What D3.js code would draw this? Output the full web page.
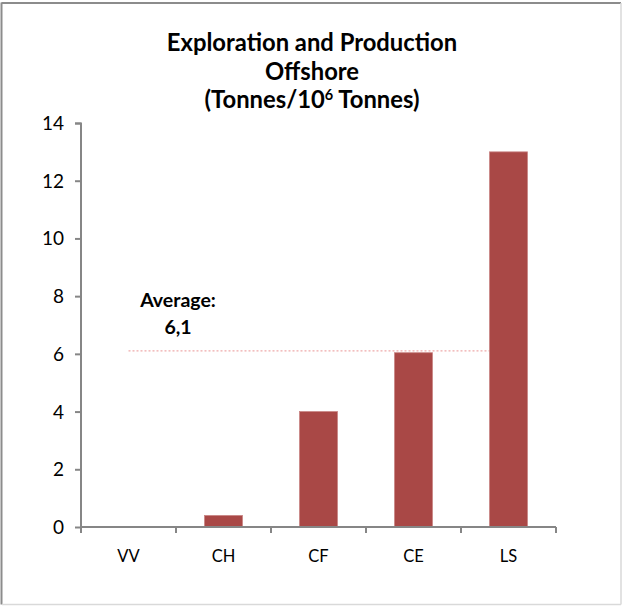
<!DOCTYPE html>
<html>
<head>
<meta charset="utf-8">
<script src="https://cdn.jsdelivr.net/npm/d3@7"></script>
<style>
  html, body { margin: 0; padding: 0; background: #fff; }
  svg { display: block; font-family: Lato, "Open Sans", sans-serif; }
</style>
</head>
<body>
<svg id="chart" width="622" height="606"></svg>
<script>
// Offshore exploration & production, tonnes per million tonnes
const categories = ["VV", "CH", "CF", "CE", "LS"];
const values = [0, 0.4, 4, 6.04, 13];
const averageValue = 6.1;
const averageLabel = ["Average:", "6,1"];
const yTicks = [0, 2, 4, 6, 8, 10, 12, 14];

const svg = d3.select("#chart");
const W = 622, H = 606;
const margin = { left: 81, right: 66, top: 123, bottom: 79 };
const plotW = W - margin.left - margin.right;
const plotH = H - margin.top - margin.bottom;

// frame
svg.append("line").attr("x1", 1.5).attr("x2", 1.5).attr("y1", 2.5).attr("y2", 604.5)
  .attr("stroke", "#8c8c8c").attr("stroke-width", 2);
svg.append("line").attr("x1", 1.5).attr("x2", 621).attr("y1", 3).attr("y2", 3)
  .attr("stroke", "#8c8c8c").attr("stroke-width", 2);
svg.append("line").attr("x1", 2).attr("x2", 621).attr("y1", 604.5).attr("y2", 604.5)
  .attr("stroke", "#d9d9d9").attr("stroke-width", 1.5);
svg.append("line").attr("x1", 621).attr("x2", 621).attr("y1", 3).attr("y2", 604.5)
  .attr("stroke", "#d9d9d9").attr("stroke-width", 1.5);

// title
const title = svg.append("text").attr("text-anchor", "middle")
  .attr("font-weight", "bold").attr("font-size", 23.8).attr("fill", "#000");
title.append("tspan").attr("x", 312).attr("y", 51).text("Exploration and Production");
title.append("tspan").attr("x", 312).attr("y", 79.5).text("Offshore");
title.append("tspan").attr("x", 312).attr("y", 108).text("(Tonnes/10");
title.append("tspan").attr("font-size", 14.5).attr("dy", -8.5).text("6");
title.append("tspan").attr("dy", 8.5).text(" Tonnes)");

const g = svg.append("g").attr("transform", `translate(${margin.left},${margin.top})`);

const x = d3.scaleBand().domain(categories).range([0, plotW]).paddingInner(0.6).paddingOuter(0.3);
const xOuter = d3.scaleBand().domain(categories).range([0, plotW]).padding(0);
const y = d3.scaleLinear().domain([0, 14]).range([plotH, 0]);

// average line (drawn behind bars)
g.append("line")
  .attr("x1", xOuter(categories[0]) + xOuter.bandwidth() / 2)
  .attr("x2", xOuter(categories[categories.length - 1]) + xOuter.bandwidth() / 2)
  .attr("y1", y(averageValue)).attr("y2", y(averageValue))
  .attr("stroke", "#eeaaaa").attr("stroke-width", 1.3)
  .attr("stroke-dasharray", "2,2");

// bars
g.selectAll("rect.bar").data(categories).join("rect")
  .attr("class", "bar")
  .attr("x", d => x(d))
  .attr("width", x.bandwidth())
  .attr("y", (d, i) => y(values[i]))
  .attr("height", (d, i) => y(0) - y(values[i]))
  .attr("fill", "#a94846")
  .attr("stroke", (d, i) => values[i] > 0 ? "#c98584" : "none")
  .attr("stroke-width", 0.8);

// y axis
const yAxis = g.append("g").call(d3.axisLeft(y).tickValues(yTicks).tickSize(6).tickPadding(11));
yAxis.select(".domain").attr("stroke", "#868686").attr("stroke-width", 2).attr("d", `M-6,0.5H0V${plotH}`);
yAxis.selectAll(".tick line").attr("stroke", "#868686").attr("stroke-width", 2);
yAxis.selectAll(".tick text").attr("font-size", 19).attr("fill", "#000")
  .attr("font-family", "Lato, sans-serif").attr("dy", "0.34em");

// x axis with ticks at band boundaries
const xAxisG = g.append("g").attr("transform", `translate(0,${plotH})`);
xAxisG.append("line").attr("x1", 0).attr("x2", plotW).attr("y1", 0).attr("y2", 0)
  .attr("stroke", "#868686").attr("stroke-width", 2);
const boundaries = categories.map(d => xOuter(d)).concat([plotW]);
xAxisG.selectAll("line.xt").data(boundaries).join("line")
  .attr("class", "xt")
  .attr("x1", d => d).attr("x2", d => d).attr("y1", 0).attr("y2", 6)
  .attr("stroke", "#868686").attr("stroke-width", 2);
xAxisG.selectAll("text").data(categories).join("text")
  .attr("x", d => xOuter(d) + xOuter.bandwidth() / 2)
  .attr("y", 35)
  .attr("text-anchor", "middle")
  .attr("font-size", 16.5).attr("fill", "#000")
  .text(d => d);

// average annotation
const ann = svg.append("text").attr("text-anchor", "middle")
  .attr("font-weight", "bold").attr("font-size", 19.5).attr("fill", "#000");
ann.append("tspan").attr("x", 178).attr("y", 307).text(averageLabel[0]);
ann.append("tspan").attr("x", 178).attr("y", 333.5).text(averageLabel[1]);
</script>
</body>
</html>
